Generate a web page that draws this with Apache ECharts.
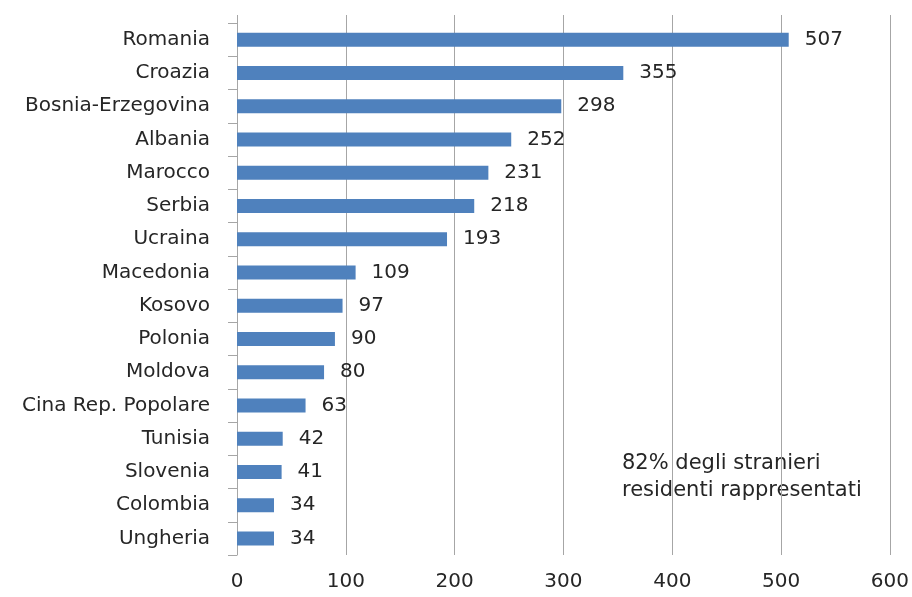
<!DOCTYPE html>
<html>
<head>
<meta charset="utf-8">
<script src="https://cdn.jsdelivr.net/npm/echarts@6/dist/echarts.min.js"></script>
<style>html,body{margin:0;padding:0;background:#fff;}#c{width:912px;height:597px;}</style>
</head>
<body>
<div id="c"></div>
<script>
const categories = ["Romania","Croazia","Bosnia-Erzegovina","Albania","Marocco","Serbia","Ucraina","Macedonia","Kosovo","Polonia","Moldova","Cina Rep. Popolare","Tunisia","Slovenia","Colombia","Ungheria"];
const values = [507,355,298,252,231,218,193,109,97,90,80,63,42,41,34,34];
const xTicks = [0,100,200,300,400,500,600];
const note = "82% degli stranieri\nresidenti rappresentati";

const font = "DejaVu Sans";
const txt = "#262626";
const gridCol = "#a6a6a6";
const chart = echarts.init(document.getElementById('c'), null, {renderer:'canvas'});
chart.setOption({
  animation:false,
  backgroundColor:'#ffffff',
  grid:{left:237,right:22,top:23,bottom:42,containLabel:false},
  xAxis:[{
    type:'value', min:xTicks[0], max:xTicks[xTicks.length-1], interval:100, position:'bottom',
    axisLine:{show:false}, axisTick:{show:false},
    splitLine:{show:true,lineStyle:{color:gridCol,width:1}},
    axisLabel:{color:txt,fontFamily:font,fontSize:20,margin:17}
  },{
    type:'value', min:xTicks[0], max:xTicks[xTicks.length-1], interval:100, position:'top',
    axisLine:{show:false}, axisTick:{show:true,length:8,lineStyle:{color:gridCol,width:1}},
    splitLine:{show:false}, axisLabel:{show:false}
  }],
  yAxis:{
    type:'category', data:categories, inverse:true,
    axisLine:{show:true,lineStyle:{color:gridCol,width:1}},
    axisTick:{show:true,length:9,lineStyle:{color:gridCol,width:1}},
    axisLabel:{color:txt,fontFamily:font,fontSize:20,margin:27}
  },
  series:[{
    type:'bar', data:values, barWidth:14, xAxisIndex:0,
    itemStyle:{color:'#4f81bd'},
    label:{show:true,position:'right',distance:16,color:txt,fontFamily:font,fontSize:20}
  }],
  graphic:[{
    type:'text', left:622, top:450,
    style:{text:note,fill:txt,font:'21px "DejaVu Sans"',lineHeight:27}
  }]
});
</script>
</body>
</html>
